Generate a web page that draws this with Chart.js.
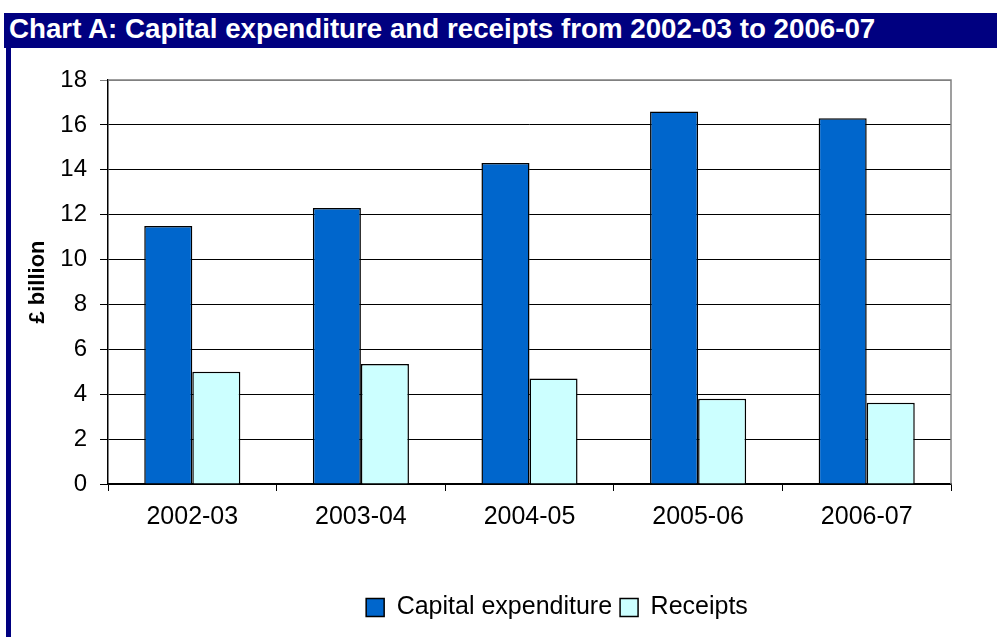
<!DOCTYPE html>
<html>
<head>
<meta charset="utf-8">
<script src="https://cdn.jsdelivr.net/npm/chart.js@4.4.0/dist/chart.umd.min.js"></script>
<style>
  body { margin: 0; background: #fff; width: 997px; height: 637px; overflow: hidden; position: relative; }
  #bar { position: absolute; left: 4px; top: 13px; width: 993px; height: 35px; background: #000080; }
  #bar span { position: absolute; left: 5px; top: 0px; color: #fff; font: bold 28px "Liberation Sans", Arial, sans-serif; white-space: nowrap; transform-origin: left center; transform: scaleX(0.99); }
  #side { position: absolute; left: 6px; top: 48px; width: 5px; height: 589px; background: #000080; }
  #wrap { position: absolute; left: 11px; top: 48px; width: 986px; height: 589px; }
</style>
</head>
<body>
<div id="bar"><span>Chart A: Capital expenditure and receipts from 2002-03 to 2006-07</span></div>
<div id="side"></div>
<div id="wrap"><canvas id="myChart"></canvas></div>
<script>
let years = ["2002-03", "2003-04", "2004-05", "2005-06", "2006-07"];
let capex = [11.5, 12.3, 14.3, 16.6, 16.3];
let receipts = [5.0, 5.35, 4.7, 3.8, 3.62];

let font = "'Liberation Sans', Arial, sans-serif";

// grey frame on the top and right of the plot, legend pushed right
let frame = {
    id: 'frame',
    afterLayout(chart) {
        chart.legend.left += 76;
        chart.legend.right += 76;
    },
    beforeDatasetsDraw(chart) {
        let a = chart.chartArea, c = chart.ctx;
        c.save();
        c.strokeStyle = '#808080';
        c.lineWidth = 1.5;
        c.beginPath();
        c.moveTo(a.left, a.top);
        c.lineTo(a.right, a.top);
        c.lineTo(a.right, a.bottom);
        c.stroke();
        c.restore();
    }
};

let ctx = document.getElementById("myChart").getContext('2d');

let chart = new Chart(ctx, {
    type: 'bar',
    data: {
        labels: years,
        datasets: [{
            label: 'Capital expenditure',
            data: capex,
            backgroundColor: '#0066CC',
            borderColor: '#000000',
            borderWidth: 1.5
        }, {
            label: 'Receipts',
            data: receipts,
            backgroundColor: '#CCFFFF',
            borderColor: '#000000',
            borderWidth: 1.5
        }]
    },
    options: {
        responsive: true,
        maintainAspectRatio: false,
        animation: false,
        devicePixelRatio: 1,
        layout: { padding: { top: 32, right: 46, bottom: 7, left: 0 } },
        datasets: { bar: { categoryPercentage: 0.57, barPercentage: 1.0 } },
        scales: {
            x: {
                grid: { drawOnChartArea: false, drawTicks: true, tickLength: 7, color: '#000', offset: true },
                border: { color: '#000', width: 1.5 },
                ticks: { color: '#000', font: { family: font, size: 25 }, padding: 11 },
                afterFit(s) { s.height = 103; }
            },
            y: {
                min: 0, max: 18,
                ticks: { stepSize: 2, color: '#000', font: { family: font, size: 24 }, padding: 13 },
                grid: {
                    color: c => c.tick && c.tick.value === 18 ? '#808080' : '#000',
                    lineWidth: 1, tickLength: 8
                },
                border: { color: '#000', width: 1.5 },
                title: { display: true, text: '£ billion', color: '#000', font: { family: font, size: 22, weight: 'bold' }, padding: { top: 14, bottom: 0 } },
                afterFit(s) { s.width = 97; }
            }
        },
        plugins: {
            legend: {
                position: 'bottom',
                labels: {
                    color: '#000',
                    font: { family: font, size: 25 },
                    boxWidth: 18, boxHeight: 18,
                    padding: 8,
                    generateLabels(ch) {
                        return ch.data.datasets.map((d, i) => ({
                            text: d.label, fillStyle: d.backgroundColor, strokeStyle: '#000',
                            lineWidth: 1.5, datasetIndex: i, fontColor: '#000'
                        }));
                    }
                }
            },
            tooltip: { enabled: false }
        }
    },
    plugins: [frame]
});
</script>
</body>
</html>
